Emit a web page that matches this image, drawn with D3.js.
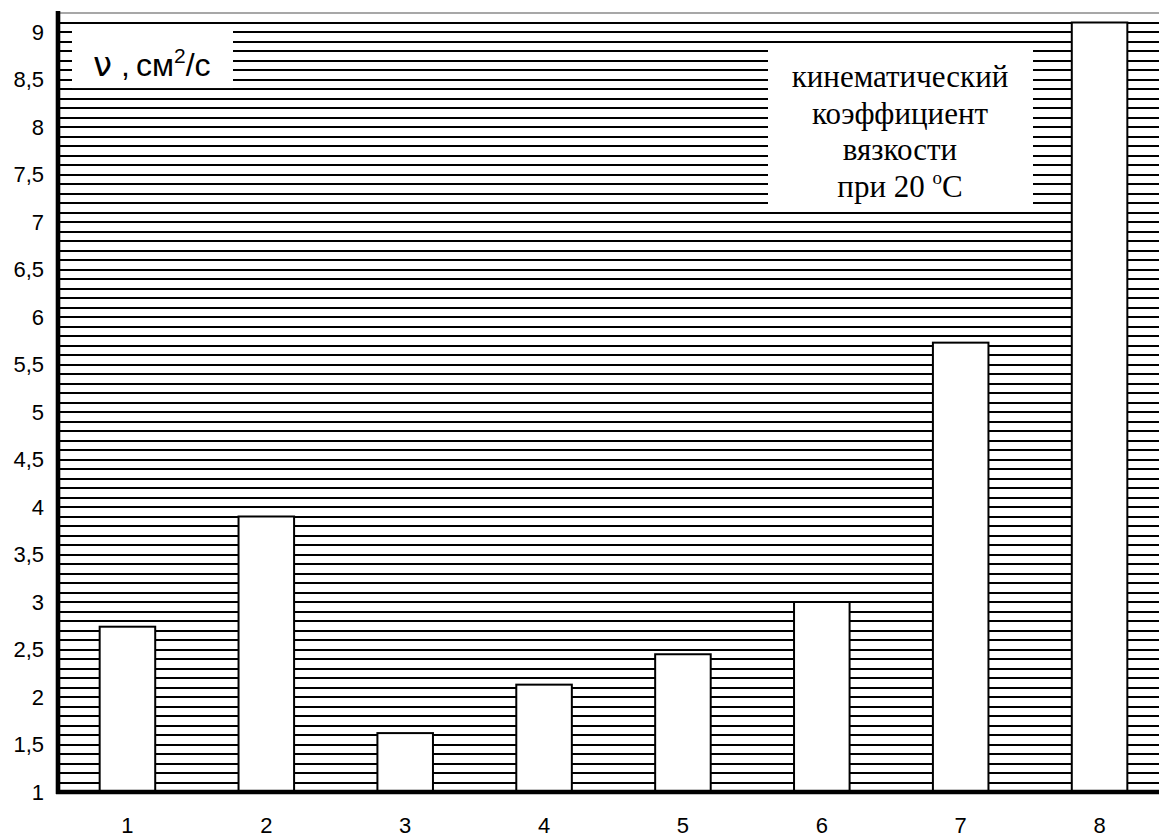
<!DOCTYPE html>
<html>
<head>
<meta charset="utf-8">
<script src="https://cdn.jsdelivr.net/npm/d3@7"></script>
<style>
  body { margin: 0; background: #fff; }
  svg { display: block; }
  .tick text { font-family: "Liberation Sans", Arial, sans-serif; font-size: 22px; fill: #000; }
</style>
</head>
<body>
<svg id="chart"></svg>
<script>
// values
const categories = ["1", "2", "3", "4", "5", "6", "7", "8"];
const viscosity = [2.74, 3.9, 1.62, 2.13, 2.45, 3.0, 5.73, 9.1];
const yTicks = [1, 1.5, 2, 2.5, 3, 3.5, 4, 4.5, 5, 5.5, 6, 6.5, 7, 7.5, 8, 8.5, 9];
const yTickLabels = ["1", "1,5", "2", "2,5", "3", "3,5", "4", "4,5", "5", "5,5", "6", "6,5", "7", "7,5", "8", "8,5", "9"];
const unitLabel = ["ν", ",", "см", "2", "/с"];
const noteLines = ["кинематический", "коэффициент", "вязкости", "при 20 "];

const width = 1159;
const height = 837;
const x0 = 58;

const svg = d3.select("#chart").attr("width", width).attr("height", height);

const y = d3.scaleLinear().domain([1, 9.2]).range([792, 13]);
const x = d3.scaleBand()
  .domain(categories)
  .range([x0, x0 + 1111])
  .paddingInner(0.6)
  .paddingOuter(0.3);

// horizontal hatching, every 0.1
const hatch = d3.range(11, 92).map((d) => d / 10);
svg.append("g")
  .attr("shape-rendering", "crispEdges")
  .selectAll("line")
  .data(hatch)
  .join("line")
  .attr("x1", x0)
  .attr("x2", width)
  .attr("y1", (d) => y(d))
  .attr("y2", (d) => y(d))
  .attr("stroke", "#000")
  .attr("stroke-width", 2);

// top border of plot area
svg.append("line")
  .attr("x1", x0).attr("x2", width)
  .attr("y1", y(9.2)).attr("y2", y(9.2))
  .attr("stroke", "#8a8a8a")
  .attr("stroke-width", 1.6);

// white label boxes sit on top of the hatching
const sans = "'Liberation Sans', Arial, sans-serif";
const unitBox = svg.append("g").attr("font-family", sans).attr("font-size", 32);
unitBox.append("rect")
  .attr("x", 72).attr("y", y(9.05))
  .attr("width", 161).attr("height", y(8.41) - y(9.05))
  .attr("fill", "#fff");
unitBox.append("text")
  .attr("x", 93).attr("y", 76)
  .attr("font-family", "'DejaVu Sans', sans-serif")
  .attr("font-size", 34)
  .text(unitLabel[0]);
unitBox.append("text").attr("x", 121).attr("y", 76).text(unitLabel[1]);
const unitText = unitBox.append("text").attr("x", 136).attr("y", 76);
unitText.append("tspan").text(unitLabel[2]);
unitText.append("tspan").attr("dy", -13).attr("font-size", 21).text(unitLabel[3]);
unitText.append("tspan").attr("dy", 13).text(unitLabel[4]);

const noteBox = svg.append("g");
noteBox.append("rect")
  .attr("x", 768).attr("y", y(8.85))
  .attr("width", 265).attr("height", y(7.11) - y(8.85))
  .attr("fill", "#fff");
noteBox.selectAll("text")
  .data(noteLines)
  .join("text")
  .attr("x", 900)
  .attr("y", (d, i) => 87 + i * 36.7)
  .attr("text-anchor", "middle")
  .attr("font-family", "'Liberation Serif', 'Times New Roman', serif")
  .attr("font-size", 31)
  .each(function (d, i) {
    const t = d3.select(this);
    t.append("tspan").text(d);
    if (i === noteLines.length - 1) {
      t.append("tspan").attr("dy", -13).attr("font-size", 19).text("o");
      t.append("tspan").attr("dy", 13).text("C");
    }
  });

// bars
svg.append("g")
  .selectAll("rect")
  .data(viscosity)
  .join("rect")
  .attr("x", (d, i) => x(categories[i]))
  .attr("y", (d) => y(d))
  .attr("width", x.bandwidth())
  .attr("height", (d) => y(1) - y(d))
  .attr("fill", "#fff")
  .attr("stroke", "#000")
  .attr("stroke-width", 2);

// axes
const yAxis = svg.append("g")
  .attr("transform", `translate(${x0},0)`)
  .call(d3.axisLeft(y).tickValues(yTicks).tickSize(0).tickPadding(14)
    .tickFormat((d, i) => yTickLabels[i]));
yAxis.select(".domain").remove();

const xAxis = svg.append("g")
  .attr("transform", `translate(0,${y(1)})`)
  .call(d3.axisBottom(x).tickSize(0).tickPadding(25));
xAxis.select(".domain").remove();

svg.append("line")
  .attr("x1", x0).attr("x2", x0)
  .attr("y1", 11).attr("y2", y(1) + 2)
  .attr("stroke", "#000").attr("stroke-width", 4.6);
svg.append("line")
  .attr("x1", x0 - 2).attr("x2", width)
  .attr("y1", y(1)).attr("y2", y(1))
  .attr("stroke", "#000").attr("stroke-width", 4.6);
</script>
</body>
</html>
